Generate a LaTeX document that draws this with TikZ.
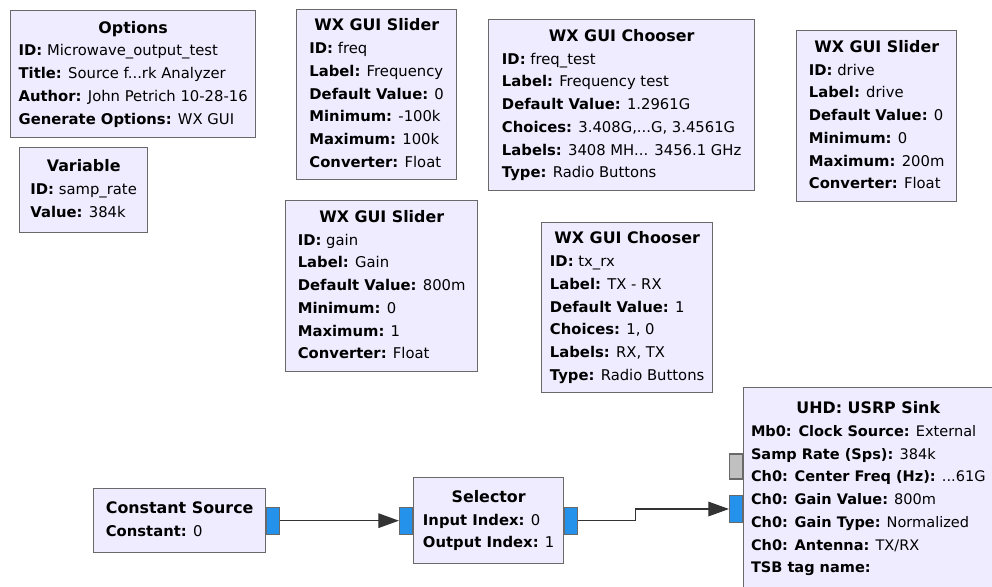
\documentclass[tikz,border=0pt]{standalone}
\usepackage{fontspec}
\setmainfont{DejaVu Sans}
\usepackage{tikz}
\usetikzlibrary{arrows.meta,positioning}
\usepackage{xcolor}

\definecolor{boxfill}{RGB}{240,236,255}
\definecolor{boxline}{RGB}{105,105,105}
\definecolor{portblue}{RGB}{36,146,234}
\definecolor{portgrey}{RGB}{192,192,192}

\newcommand{\prm}[2]{\textbf{#1:} #2}
\newcommand{\ttl}[1]{\multicolumn{1}{@{}c@{}}{\fontsize{11.9pt}{17.06pt}\selectfont\bfseries #1}}

\begin{document}
\begin{tikzpicture}[x=0.75pt, y=-0.75pt,
    block/.style={draw=boxline, fill=boxfill, line width=1pt, anchor=north west,
        inner xsep=5pt, inner ysep=0pt, font=\fontsize{11.1pt}{17.06pt}\selectfont},
    port/.style={draw=boxline, fill=portblue, line width=0.8pt,
        minimum width=9.75pt, minimum height=20.25pt, inner sep=0pt},
    flow/.style={draw=black!80, line width=0.9pt, -{Triangle[length=15.5pt,width=11pt]}}]

        % Canvas
        \path[use as bounding box, fill=white] (0,0) rectangle (992,586);
        \clip (0,0) rectangle (992,586);

        % Variable blocks
        \node[block, minimum width=183.75pt, minimum height=95.25pt] (options) at (10,10) {\begin{tabular}{@{}l@{}}
            \ttl{Options}\\ \prm{ID}{Microwave\_output\_test}\\ \prm{Title}{Source f...rk Analyzer}\\
            \prm{Author}{John Petrich 10-28-16}\\ \prm{Generate Options}{WX GUI}\end{tabular}};
        \node[block, minimum width=96pt, minimum height=63.75pt] (samprate) at (19,147) {\begin{tabular}{@{}l@{}}
            \ttl{Variable}\\ \prm{ID}{samp\_rate}\\ \prm{Value}{384k}\end{tabular}};
        \node[block, minimum width=120pt, minimum height=127.5pt] (freq) at (296,9) {\begin{tabular}{@{}l@{}}
            \ttl{WX GUI Slider}\\ \prm{ID}{freq}\\ \prm{Label}{Frequency}\\ \prm{Default Value}{0}\\
            \prm{Minimum}{-100k}\\ \prm{Maximum}{100k}\\ \prm{Converter}{Float}\end{tabular}};
        \node[block, minimum width=199.5pt, minimum height=128.25pt] (freqtest) at (488,19) {\begin{tabular}{@{}l@{}}
            \ttl{WX GUI Chooser}\\ \prm{ID}{freq\_test}\\ \prm{Label}{Frequency test}\\ \prm{Default Value}{1.2961G}\\
            \prm{Choices}{3.408G,...G, 3.4561G}\\ \prm{Labels}{3408 MH... 3456.1 GHz}\\ \prm{Type}{Radio Buttons}\end{tabular}};
        \node[block, minimum width=120pt, minimum height=128.25pt] (drive) at (796,30) {\begin{tabular}{@{}l@{}}
            \ttl{WX GUI Slider}\\ \prm{ID}{drive}\\ \prm{Label}{drive}\\ \prm{Default Value}{0}\\
            \prm{Minimum}{0}\\ \prm{Maximum}{200m}\\ \prm{Converter}{Float}\end{tabular}};
        \node[block, minimum width=144pt, minimum height=128.25pt] (gain) at (285,200) {\begin{tabular}{@{}l@{}}
            \ttl{WX GUI Slider}\\ \prm{ID}{gain}\\ \prm{Label}{Gain}\\ \prm{Default Value}{800m}\\
            \prm{Minimum}{0}\\ \prm{Maximum}{1}\\ \prm{Converter}{Float}\end{tabular}};
        \node[block, minimum width=128.25pt, minimum height=127.5pt] (txrx) at (541,222) {\begin{tabular}{@{}l@{}}
            \ttl{WX GUI Chooser}\\ \prm{ID}{tx\_rx}\\ \prm{Label}{TX - RX}\\ \prm{Default Value}{1}\\
            \prm{Choices}{1, 0}\\ \prm{Labels}{RX, TX}\\ \prm{Type}{Radio Buttons}\end{tabular}};

        % Signal blocks
        \node[block, minimum width=129pt, minimum height=48pt] (const) at (93,488) {\begin{tabular}{@{}l@{}}
            \ttl{Constant Source}\\ \prm{Constant}{0}\end{tabular}};
        \node[block, minimum width=112.5pt, minimum height=64.5pt] (sel) at (413,477) {\begin{tabular}{@{}l@{}}
            \ttl{Selector}\\ \prm{Input Index}{0}\\ \prm{Output Index}{1}\end{tabular}};
        \node[block, inner xsep=5.5pt, minimum height=151.5pt, font=\fontsize{10.9pt}{17.06pt}\selectfont] (sink) at (743,387) {\begin{tabular}{@{}l@{}}
            \ttl{UHD: USRP Sink}\\ \prm{Mb0: Clock Source}{External}\\ \prm{Samp Rate (Sps)}{384k}\\
            \prm{Ch0: Center Freq (Hz)}{...61G}\\ \prm{Ch0: Gain Value}{800m}\\ \prm{Ch0: Gain Type}{Normalized}\\
            \prm{Ch0: Antenna}{TX/RX}\\ \prm{TSB tag name}{}\end{tabular}};

        % Ports
        \node[port, anchor=west] (constout) at (const.east) {};
        \node[port, anchor=east] (selin) at (sel.west) {};
        \node[port, anchor=west] (selout) at (sel.east) {};
        \node[port, anchor=east, fill=portgrey, minimum height=18.75pt] (sinkmsg) at (743,466.5) {};
        \node[port, anchor=east] (sinkin) at (743,509) {};

        % Connections
        \draw[flow] (constout.east) -- (selin.west);
        \draw[flow] (selout.east) -- ++(57,0) |- (sinkin.west);
    \end{tikzpicture}
\end{document}
